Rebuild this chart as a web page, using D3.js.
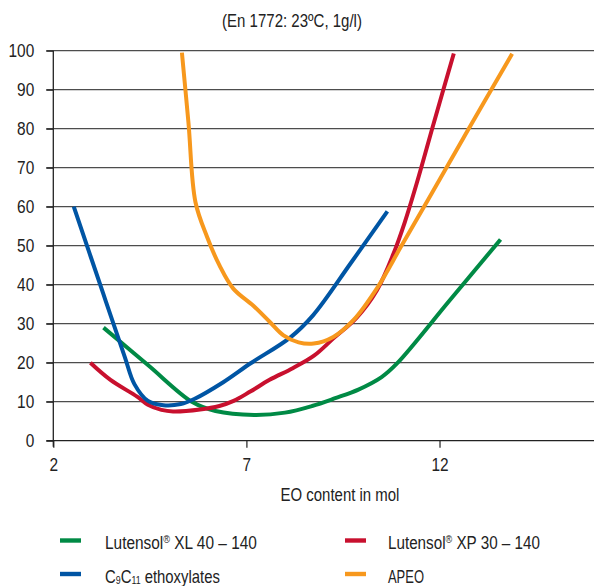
<!DOCTYPE html>
<html>
<head>
    <meta charset="utf-8">
    <title>EO content chart</title>
    <style>
        body { margin: 0; background: #fff; }
        svg { display: block; font-family: "Liberation Sans Narrow", "Arial Narrow", "Liberation Sans", Arial, sans-serif; }
        .grid line { stroke: #4d4d4d; stroke-width: 1.3px; }
        .axis path, .axis line { stroke: #222; stroke-width: 1.2px; }
        .axis text { font-size: 18px; fill: #222; }
        .crv { fill: none; stroke-width: 4px; stroke-linejoin: round; stroke-linecap: butt; }
        .lbl { font-size: 18.5px; fill: #222; }
    </style>
    <script src="https://d3js.org/d3.v7.min.js"></script>
</head>
<body>
<svg id="chart"></svg>
<script>
    //values: [EO content in mol, value]
    var xlSeries = [[3.3,29],[4.45,19.4],[5.6,9.9],[6.2,7.6],[7.2,6.6],[8,7.2],[8.7,8.9],[9.3,10.9],[9.9,13.1],[10.5,16.3],[10.9,19.8],[12.25,35.8],[13.58,51.6]];
    var xpSeries = [[2.96,20],[3.48,15.6],[4.17,11.3],[4.45,9.2],[4.8,7.9],[5.1,7.5],[5.8,8],[6.3,8.9],[6.67,10.2],[7.1,12.6],[7.6,15.6],[8.2,18.6],[8.75,21.8],[9.26,26.3],[9.85,31.5],[10.38,38.6],[10.81,48],[11.1,56],[11.41,66],[11.85,81.4],[12.37,99.3]];
    var c9Series = [[2.53,60],[3.3,37.5],[3.85,21.5],[4.1,14.5],[4.45,10.2],[4.85,9.1],[5.3,9.4],[5.65,10.7],[6.4,15],[7.1,19.8],[8.14,26.5],[8.73,32.2],[9.7,45.5],[10.65,58.8]];
    var apeoSeries = [[5.33,99.5],[5.5,81.5],[5.68,61.2],[5.98,52.3],[6.3,45],[6.66,39],[7.18,34.6],[7.6,30.5],[7.96,27],[8.35,25.2],[8.74,24.9],[9.25,26.6],[9.77,30.9],[10.4,39.4],[11,49.7],[11.7,61.7],[12.7,79],[13.88,99.2]];

    var seriesNames = ["Lutensol XL 40 – 140", "Lutensol XP 30 – 140", "C9C11 ethoxylates", "APEO"],
        seriesColors = ["#008a45", "#c8102e", "#0055a4", "#f7981d"],
        xTicks = [2, 7, 12],
        yTicks = [0, 10, 20, 30, 40, 50, 60, 70, 80, 90, 100],
        titleText = "(En 1772: 23ºC, 1g/l)",
        xTitle = "EO content in mol";

    var width = 594, height = 586,
        svg = d3.select("#chart").attr("width", width).attr("height", height),
        x = d3.scaleLinear().domain([2, 16]).range([53.3, 594]),
        y = d3.scaleLinear().domain([0, 100]).range([440.7, 50.7]);

    //the source uses a condensed face: squeeze a text horizontally round its anchor
    function squeeze(node, w) {
        var t = d3.select(node), ax = +t.attr("x") || 0,
            k = w / node.getComputedTextLength();
        if (k < 1) t.attr("transform", "translate(" + ax + ",0) scale(" + k + ",1) translate(" + (-ax) + ",0)");
    }

    //title
    svg.append("text").attr("class", "lbl").attr("x", 292).attr("y", 27)
        .attr("text-anchor", "middle").text(titleText)
        .each(function(){ squeeze(this, 140); });

    //horizontal grid lines
    svg.append("g").attr("class", "grid").selectAll("line").data(yTicks.slice(1)).enter()
        .append("line")
        .attr("x1", x(2) - 7).attr("x2", width)
        .attr("y1", function(d){ return y(d); }).attr("y2", function(d){ return y(d); });

    //axes
    svg.append("g").attr("class", "axis").attr("transform", "translate(" + x(2) + ",0)")
        .call(d3.axisLeft(y).tickValues(yTicks).tickSize(7).tickPadding(12))
        .call(function(g){ g.select(".domain").remove(); })
        .selectAll("text").each(function(d){ squeeze(this, 8.6 * String(d).length); });
    svg.append("g").attr("class", "axis").attr("transform", "translate(0," + y(0) + ")")
        .call(d3.axisBottom(x).tickValues(xTicks).tickSize(7).tickPadding(11))
        .call(function(g){ g.select(".domain").remove(); })
        .selectAll("text").each(function(d){ squeeze(this, 8.6 * String(d).length); });
    svg.append("line").attr("x1", x(2) - 7).attr("x2", width).attr("y1", y(0)).attr("y2", y(0))
        .attr("stroke", "#222").attr("stroke-width", 1.3);
    svg.append("line").attr("x1", x(2)).attr("x2", x(2)).attr("y1", y(100)).attr("y2", y(0) + 6)
        .attr("stroke", "#222").attr("stroke-width", 1.3);

    svg.append("text").attr("class", "lbl").attr("x", 340).attr("y", 501)
        .attr("text-anchor", "middle").text(xTitle)
        .each(function(){ squeeze(this, 119); });

    //curves
    var line = d3.line()
        .x(function(d){ return x(d[0]); })
        .y(function(d){ return y(d[1]); })
        .curve(d3.curveCatmullRom.alpha(0.5));
    var allSeries = [xlSeries, xpSeries, c9Series, apeoSeries];
    svg.append("g").selectAll("path").data([0, 1, 2, 3]).enter()
        .append("path").attr("class", "crv")
        .attr("d", function(i){ return line(allSeries[i]); })
        .attr("stroke", function(i){ return seriesColors[i]; });

    //legend
    var legPos = [[60, 540.5], [345, 540.5], [60, 574], [345, 574]],
        legWidth = [152, 152, 115, 36];
    var leg = svg.append("g").selectAll("g").data([0, 1, 2, 3]).enter()
        .append("g").attr("transform", function(i){ return "translate(" + legPos[i][0] + "," + legPos[i][1] + ")"; });
    leg.append("rect").attr("x", 0).attr("y", -2.2).attr("width", 21).attr("height", 4.4)
        .attr("fill", function(i){ return seriesColors[i]; });
    leg.each(function(i){
        var t = d3.select(this).append("text").attr("class", "lbl").attr("x", i % 2 ? 43 : 45).attr("y", 8.5);
        if (i < 2) {
            var parts = seriesNames[i].split(" ");
            t.append("tspan").text(parts[0]);
            t.append("tspan").attr("dy", -6).attr("font-size", 11).text("®");
            t.append("tspan").attr("dy", 6).text(" " + parts.slice(1).join(" "));
        } else if (i === 2) {
            t.append("tspan").text("C");
            t.append("tspan").attr("dy", 1).attr("font-size", 11).text("9");
            t.append("tspan").attr("dy", -1).text("C");
            t.append("tspan").attr("dy", 1).attr("font-size", 11).text("11");
            t.append("tspan").attr("dy", -1).text(" ethoxylates");
        } else {
            t.text(seriesNames[i]);
        }
        squeeze(t.node(), legWidth[i]);
    });
</script>
</body>
</html>
